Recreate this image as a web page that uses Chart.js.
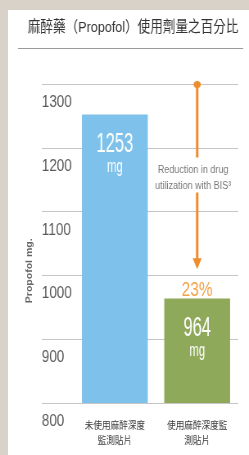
<!DOCTYPE html>
<html>
<head>
<meta charset="utf-8">
<script src="https://cdn.jsdelivr.net/npm/chart.js@4.4.0/dist/chart.umd.min.js"></script>
<style>
  html, body { margin: 0; padding: 0; background: #d9d2c9; }
  #wrap { position: relative; width: 249px; height: 455px; overflow: hidden; }
  #panel { position: absolute; left: 8px; top: 10px; right: 0; bottom: 0; background: #fff; }
  /* the reference picture is squeezed sideways, so draw wider and squeeze */
  canvas { position: absolute; left: 0; top: 0; transform: scaleX(0.819); transform-origin: 0 0; }
</style>
</head>
<body>
<div id="wrap">
  <div id="panel"></div>
  <canvas id="chart" width="304" height="455"></canvas>
</div>
<script>
// data
const categories = [['未使用麻醉深度', '監測貼片'], ['使用麻醉深度監', '測貼片']];
const values = [1253, 964];
const barColors = ['#7ec2eb', '#8fa95b'];
const yTicks = [800, 900, 1000, 1100, 1200, 1300];
const reductionText = ['Reduction in drug', 'utilization with BIS³'];
const reductionPct = '23%';
const arrowFrom = 1300;
const arrowTo = 1010;

const SANS = '"Liberation Sans", Arial, sans-serif';
const CJK = '"Liberation Sans", "Noto Sans CJK TC", sans-serif';

// white numbers inside the bars
const barText = {
  id: 'barText',
  afterDatasetsDraw(chart) {
    const ctx = chart.ctx;
    chart.getDatasetMeta(0).data.forEach((bar, i) => {
      ctx.save();
      ctx.fillStyle = '#fff';
      ctx.textAlign = 'center';
      ctx.textBaseline = 'top';
      ctx.translate(bar.x, bar.y);
      ctx.scale(0.72, 1);
      ctx.font = '28px ' + SANS;
      ctx.fillText(String(values[i]), 0, 16);
      ctx.font = '19px ' + SANS;
      ctx.fillText('mg', 0, 43);
      ctx.restore();
    });
  }
};

// orange reduction arrow + texts
const reduction = {
  id: 'reduction',
  afterDatasetsDraw(chart) {
    const { ctx, scales: { x, y } } = chart;
    const cx = x.getPixelForValue(1);
    const top = y.getPixelForValue(arrowFrom);
    const tip = y.getPixelForValue(arrowTo);
    ctx.save();
    ctx.strokeStyle = '#ef8c2c';
    ctx.fillStyle = '#ef8c2c';
    ctx.lineWidth = 3;
    ctx.beginPath();
    ctx.moveTo(cx, top);
    ctx.lineTo(cx, top + 73);
    ctx.moveTo(cx, top + 108);
    ctx.lineTo(cx, tip - 8);
    ctx.stroke();
    ctx.beginPath();
    ctx.ellipse(cx, top, 4.3, 3.5, 0, 0, Math.PI * 2);
    ctx.fill();
    ctx.beginPath();
    ctx.moveTo(cx - 5.5, tip - 11);
    ctx.lineTo(cx + 5.5, tip - 11);
    ctx.lineTo(cx, tip);
    ctx.closePath();
    ctx.fill();

    ctx.fillStyle = '#777';
    ctx.textAlign = 'center';
    ctx.textBaseline = 'middle';
    ctx.font = '11px ' + SANS;
    ctx.fillText(reductionText[0], cx - 5, top + 85);
    ctx.fillText(reductionText[1], cx - 5, top + 101);

    const bar = chart.getDatasetMeta(0).data[1];
    ctx.translate(cx, bar.y - 3);
    ctx.scale(0.9, 1);
    ctx.fillStyle = '#f2a247';
    ctx.textBaseline = 'alphabetic';
    ctx.font = '21px ' + SANS;
    ctx.fillText(reductionPct, 0, 0);
    ctx.restore();
  }
};

// title underline and rotated y title
const decor = {
  id: 'decor',
  afterDraw(chart) {
    const { ctx, chartArea } = chart;
    ctx.save();
    ctx.strokeStyle = '#9a9a9a';
    ctx.lineWidth = 1;
    ctx.beginPath();
    ctx.moveTo(22, 48.5);
    ctx.lineTo(297, 48.5);
    ctx.stroke();

    ctx.translate(36, (chartArea.top + chartArea.bottom) / 2 + 27);
    ctx.rotate(-Math.PI / 2);
    ctx.fillStyle = '#666';
    ctx.textAlign = 'center';
    ctx.textBaseline = 'middle';
    ctx.font = 'bold 10.5px ' + SANS;
    ctx.fillText('Propofol mg.', 0, 0);
    ctx.restore();
  }
};

new Chart(document.getElementById('chart'), {
  type: 'bar',
  data: {
    labels: categories,
    datasets: [{
      data: values,
      backgroundColor: barColors,
      barPercentage: 0.8,
      categoryPercentage: 1
    }]
  },
  options: {
    responsive: false,
    devicePixelRatio: 1,
    animation: false,
    layout: { padding: { left: 34, right: 13, top: 0, bottom: 7 } },
    plugins: {
      legend: { display: false },
      tooltip: { enabled: false },
      title: {
        display: true,
        text: '麻醉藥（Propofol）使用劑量之百分比',
        align: 'start',
        color: '#333',
        font: { family: CJK, size: 15.5, weight: 'normal', lineHeight: 1.2 },
        padding: { top: 18, bottom: 48 }
      }
    },
    scales: {
      x: {
        afterFit(scale) { scale.height = 45; },
        grid: { display: false, drawTicks: false },
        border: { display: false },
        ticks: {
          color: '#3a3a3a',
          font: { family: CJK, size: 10.5, lineHeight: 1.43 },
          padding: 16
        }
      },
      y: {
        min: 800,
        max: 1300,
        afterFit(scale) { scale.width = 56; },
        afterBuildTicks(scale) { scale.ticks = yTicks.map(v => ({ value: v })); },
        grid: { color: '#c6c6c6', tickLength: 39, drawTicks: true },
        border: { display: false },
        ticks: {
          mirror: true,
          padding: -39,
          labelOffset: 18,
          color: '#5a5a5a',
          font: { family: SANS, size: 16.5 },
          callback: v => String(v)
        }
      }
    }
  },
  plugins: [barText, reduction, decor]
});
</script>
</body>
</html>
